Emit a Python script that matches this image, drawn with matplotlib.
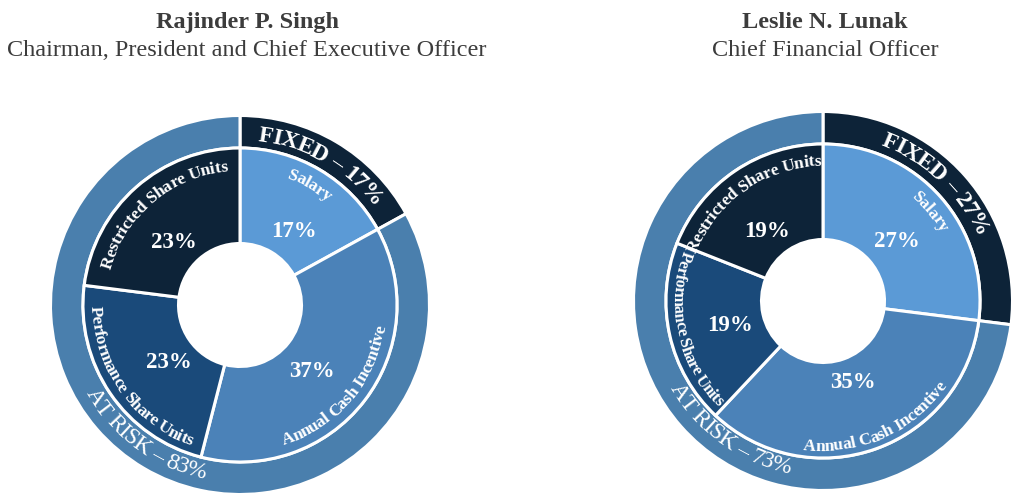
import numpy as np
import matplotlib
matplotlib.use("Agg")
import matplotlib.pyplot as plt
from matplotlib.font_manager import FontProperties, findfont, get_font

# ---------------- data ----------------
names = ["Rajinder P. Singh", "Leslie N. Lunak"]
roles = ["Chairman, President and Chief Executive Officer", "Chief Financial Officer"]
components = ["Salary", "Annual Cash Incentive", "Performance Share Units", "Restricted Share Units"]
singh_mix = [17, 37, 23, 23]
lunak_mix = [27, 35, 19, 19]
groups = ["FIXED", "AT RISK"]
singh_groups = [17, 83]
lunak_groups = [27, 73]

# ---------------- style / layout ----------------
W, H, DPI = 1019, 496, 100
plt.rcParams["font.family"] = ["Liberation Serif", "DejaVu Serif"]

comp_colors = ["#5b9ad6", "#4b82b8", "#1a4a7a", "#0d2338"]
group_colors = ["#0d2338", "#4a7fad"]
TITLE_COLOR = "#3c3c3c"

R_PX = 189.5          # outer radius in pixels (data radius 1)
RING = 0.8285         # boundary between rings
HOLE = 0.3245         # hole radius
EDGE_LW = 2.2         # white separators (points)

# label layout: (compass angle deg, radius px, letters point outward, size, tracking)
charts = [
    dict(center=(240, 305), title_x=247,
         comp_lab=[(30, 141, True, 12.5, 0.97), (130.5, 141, False, 12.5, 0.97),
                   (234.5, 143, False, 12.5, 0.97), (320, 140, True, 12.5, 0.97)],
         pct_lab=[(36, 91), (133, 98), (231, 92), (313, 91)],
         grp_lab=[(30, 173, True), (216, 170, False)]),
    dict(center=(823, 301), title_x=825,
         comp_lab=[(50, 142, True, 12.5, 0.97), (156, 144, False, 12.5, 0.97),
                   (257.4, 144, False, 12.0, 0.94), (324.7, 141, True, 12.5, 0.97)],
         pct_lab=[(51, 95), (160, 87), (255.5, 96), (321, 89)],
         grp_lab=[(44, 174, True), (215.7, 168, False)]),
]
mixes = [singh_mix, lunak_mix]
grp_vals = [singh_groups, lunak_groups]


def advances(s, prop):
    font = get_font(findfont(prop))
    font.set_size(prop.get_size_in_points(), DPI)
    return [font.load_char(ord(c)).linearHoriAdvance / 65536.0 for c in s]


def arc_text(ax, s, compass_c, r_px, size, weight, outward, track=0.97):
    prop = FontProperties(family="Liberation Serif", size=size, weight=weight)
    advs = [a * track for a in advances(s, prop)]
    total = sum(advs)
    cap = 0.66 * size * DPI / 72.0
    r_base = r_px - cap / 2 if outward else r_px + cap / 2
    pos = -total / 2
    for c, a in zip(s, advs):
        mid = pos + a / 2
        dth = np.degrees(mid / r_base)
        comp = compass_c + dth if outward else compass_c - dth
        m = 90 - comp
        rot = m - 90 if outward else m + 90
        x = r_base * np.cos(np.radians(m)) / R_PX
        y = r_base * np.sin(np.radians(m)) / R_PX
        ax.text(x, y, c, rotation=rot, rotation_mode="anchor", ha="center",
                va="baseline", color="white", fontproperties=prop)
        pos += a


fig = plt.figure(figsize=(W / DPI, H / DPI), dpi=DPI)

for i, ch in enumerate(charts):
    cx, cy = ch["center"]
    ax = fig.add_axes([(cx - R_PX) / W, 1 - (cy + R_PX) / H, 2 * R_PX / W, 2 * R_PX / H])
    ax.pie(grp_vals[i], radius=1.0, startangle=90, counterclock=False,
           colors=group_colors,
           wedgeprops=dict(width=1.0 - RING, edgecolor="white", linewidth=EDGE_LW))
    ax.pie(mixes[i], radius=RING, startangle=90, counterclock=False,
           colors=comp_colors,
           wedgeprops=dict(width=RING - HOLE, edgecolor="white", linewidth=EDGE_LW))
    ax.set_xlim(-1, 1)
    ax.set_ylim(-1, 1)
    ax.set_aspect("equal")
    ax.axis("off")

    # component names along the arcs
    for name, (cc, r, out, sz, tr) in zip(components, ch["comp_lab"]):
        arc_text(ax, name, cc, r, sz, "bold", out, track=tr)
    # group labels on the outer ring
    for k, (g, v, (cc, r, out)) in enumerate(zip(groups, grp_vals[i], ch["grp_lab"])):
        arc_text(ax, f"{g} \u2013 {v}%", cc, r, 17,
                 "bold" if k == 0 else "normal", out, track=0.95)
    # percentages
    for v, (cc, r) in zip(mixes[i], ch["pct_lab"]):
        m = np.radians(90 - cc)
        ax.text(r * np.cos(m) / R_PX, r * np.sin(m) / R_PX, f"{v}%", ha="center",
                va="center", color="white", fontsize=16.5, fontweight="bold")

    fig.text(ch["title_x"] / W, 1 - 28 / H, names[i], ha="center", va="baseline",
             fontsize=17.5, fontweight="bold", color=TITLE_COLOR)
    fig.text(ch["title_x"] / W, 1 - 56 / H, roles[i], ha="center", va="baseline",
             fontsize=17.5, color=TITLE_COLOR)

fig.savefig("out.png", dpi=DPI)
